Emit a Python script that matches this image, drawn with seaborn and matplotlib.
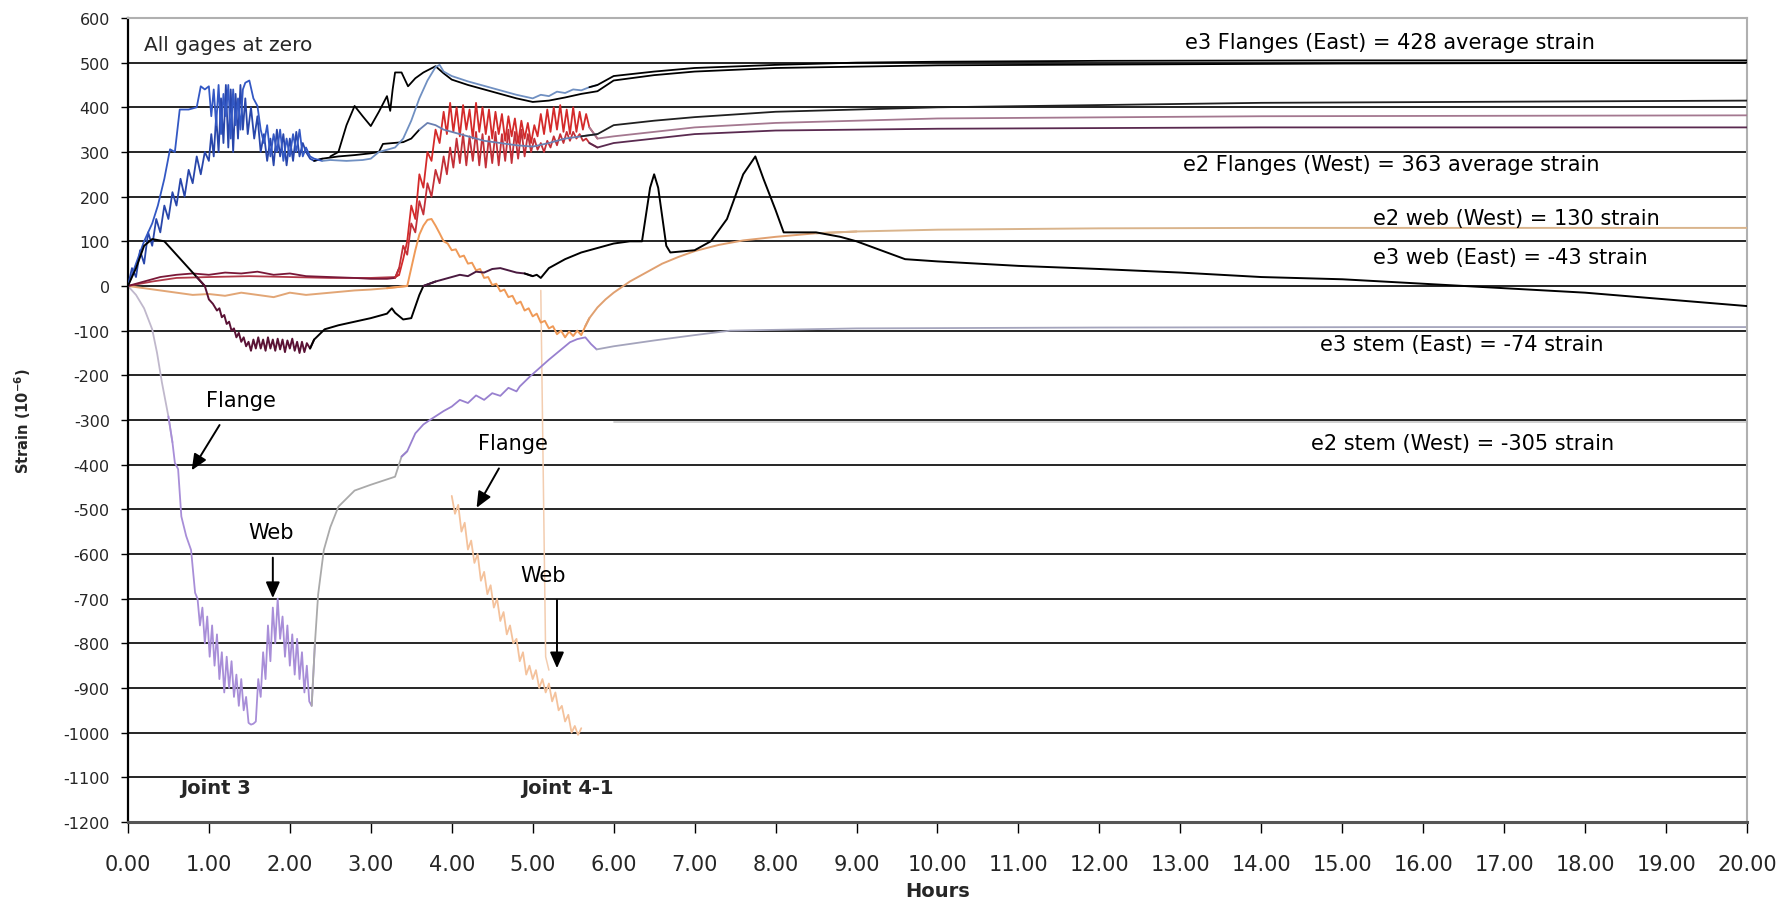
import numpy as np
import pandas as pd
import matplotlib
matplotlib.use("Agg")
import matplotlib.pyplot as plt
import seaborn as sns

sns.set_theme(style="white")
plt.rcParams['font.family'] = ['DejaVu Sans']

# ---------------- data (hours, strain x1e-6) ----------------
blue1_h = [0, 0.1, 0.2, 0.3, 0.37, 0.45, 0.52, 0.58, 0.64, 0.75, 0.85, 0.9, 0.95, 1.0, 1.03, 1.06,
           1.09, 1.12, 1.15, 1.18, 1.21, 1.24, 1.27, 1.3, 1.33, 1.36, 1.39, 1.42, 1.45, 1.5, 1.55,
           1.6, 1.64, 1.68, 1.72, 1.76, 1.8, 1.84, 1.88, 1.92, 1.96, 2.0, 2.04, 2.08, 2.12, 2.16,
           2.2, 2.25, 2.3, 2.4, 2.5, 2.7, 2.9, 3.0, 3.1, 3.3, 3.4, 3.5, 3.6, 3.7, 3.8, 3.85, 3.9,
           4.0, 4.2, 4.4, 4.6, 4.8, 5.0, 5.1, 5.2, 5.3, 5.4, 5.5, 5.6, 5.7, 5.8,
           6.0, 6.5, 7.0, 8.0, 9.0, 10.0, 12.0, 15.0, 20.0]
blue1_v = [0, 50, 100, 140, 180, 240, 306, 300, 395, 395, 400, 447, 440, 447, 380, 440,
           360, 450, 340, 430, 380, 450, 330, 440, 360, 420, 350, 440, 455, 460, 420,
           403, 350, 320, 360, 290, 340, 300, 350, 280, 330, 290, 340, 300, 350, 290,
           310, 290, 285, 280, 282, 280, 282, 285, 300, 310, 330, 370, 420, 460, 490, 495, 480,
           470, 458, 448, 438, 428, 420, 428, 425, 435, 432, 440, 438, 445, 450,
           470, 480, 488, 495, 500, 502, 504, 505, 505]

blue2_h = [0, 0.05, 0.1, 0.15, 0.2, 0.25, 0.3, 0.35, 0.4, 0.45, 0.5, 0.55, 0.6, 0.65, 0.7, 0.75,
           0.8, 0.85, 0.9, 0.95, 1.0, 1.03, 1.06, 1.09, 1.12, 1.15, 1.18, 1.21, 1.24, 1.27, 1.3,
           1.33, 1.36, 1.39, 1.42, 1.45, 1.48, 1.52, 1.56, 1.6, 1.64, 1.68, 1.72, 1.76, 1.8, 1.84,
           1.88, 1.92, 1.96, 2.0, 2.04, 2.08, 2.12, 2.16, 2.2, 2.25, 2.3, 2.4, 2.6, 2.8, 3.0, 3.1,
           3.15, 3.4, 3.5, 3.6, 3.7, 3.8, 3.9, 4.0, 4.2, 4.4, 4.6, 4.8, 5.0, 5.2, 5.4, 5.6, 5.8,
           6.0, 6.5, 7.0, 8.0, 10.0, 14.0, 20.0]
blue2_v = [0, 40, 20, 80, 50, 120, 90, 150, 120, 180, 150, 210, 180, 240, 200, 260,
           230, 290, 250, 300, 280, 340, 290, 380, 300, 420, 320, 450, 310, 440, 300,
           430, 330, 450, 350, 420, 340, 400, 330, 380, 300, 340, 280, 330, 270, 350,
           290, 340, 270, 330, 280, 345, 290, 320, 300, 285, 280, 285, 290, 293, 297, 300,
           318, 322, 330, 350, 365, 360, 350, 345, 335, 325, 320, 315, 312, 320, 330, 335, 340,
           360, 370, 378, 390, 400, 410, 415]

blk_h = [2.5, 2.6, 2.7, 2.8, 2.9, 3.0, 3.1, 3.2, 3.24, 3.27, 3.3, 3.38, 3.46, 3.55, 3.65, 3.8,
         3.9, 4.0, 4.2, 4.4, 4.6, 4.8, 5.0, 5.2, 5.4, 5.6, 5.8, 6.0, 6.5, 7.0, 8.0, 10.0, 15.0, 20.0]
blk_v = [290, 300, 360, 403, 380, 358, 390, 425, 392, 440, 478, 478, 447, 465, 478, 492,
         476, 462, 450, 440, 430, 420, 412, 415, 422, 430, 436, 460, 472, 480, 488, 494, 498, 500]

red1_h = [0, 0.3, 0.6, 1.0, 1.5, 2.0, 2.5, 3.0, 3.3, 3.35, 3.4, 3.45, 3.5, 3.55, 3.6, 3.65, 3.7,
          3.75, 3.8, 3.85,
          3.90, 3.94, 3.98, 4.02, 4.06, 4.10, 4.14, 4.18, 4.22, 4.26, 4.30, 4.34, 4.38, 4.42,
          4.46, 4.50, 4.54, 4.58, 4.62, 4.66, 4.70, 4.74, 4.78, 4.82, 4.86, 4.90, 4.94, 4.98,
          5.02, 5.06, 5.10, 5.14, 5.18, 5.22, 5.26, 5.30, 5.34, 5.38, 5.42, 5.46, 5.50, 5.54,
          5.58, 5.62, 5.66, 5.70,
          5.8, 6.0, 6.5, 7.0, 8.0, 10.0, 14.0, 20.0]
red1_v = [0, 10, 18, 20, 22, 20, 18, 18, 20, 25, 60, 100, 180, 150, 250, 220, 300,
          280, 350, 320,
          390, 340, 410, 345, 400, 335, 405, 350, 395, 330, 410, 345, 400, 340,
          395, 330, 390, 340, 385, 325, 380, 335, 375, 320, 370, 330, 365, 320,
          360, 335, 385, 340, 395, 345, 400, 350, 405, 345, 395, 340, 400, 345,
          390, 350, 385, 355,
          330, 335, 345, 355, 365, 375, 380, 382]

red2_h = [0, 0.2, 0.4, 0.6, 0.8, 1.0, 1.2, 1.4, 1.6, 1.8, 2.0, 2.2, 2.5, 2.8, 3.0, 3.2, 3.3, 3.35,
          3.4, 3.45, 3.5, 3.55, 3.6, 3.65, 3.7, 3.75, 3.8, 3.85,
          3.90, 3.94, 3.98, 4.02, 4.06, 4.10, 4.14, 4.18, 4.22, 4.26, 4.30, 4.34, 4.38, 4.42,
          4.46, 4.50, 4.54, 4.58, 4.62, 4.66, 4.70, 4.74, 4.78, 4.82, 4.86, 4.90, 4.94, 4.98,
          5.02, 5.06, 5.10, 5.14, 5.18, 5.22, 5.26, 5.30, 5.34, 5.38, 5.42, 5.46, 5.50, 5.54,
          5.58, 5.62, 5.66, 5.70,
          5.8, 6.0, 6.5, 7.0, 8.0, 10.0, 14.0, 20.0]
red2_v = [0, 10, 20, 25, 28, 25, 30, 28, 32, 25, 28, 22, 20, 18, 16, 16, 18, 40,
          90, 70, 140, 120, 190, 160, 230, 200, 260, 230,
          290, 250, 310, 265, 330, 275, 340, 270, 335, 280, 345, 270, 340, 265,
          335, 275, 345, 270, 340, 280, 350, 275, 345, 285, 350, 290, 340, 300,
          330, 305, 320, 300, 325, 310, 335, 315, 340, 320, 345, 325, 345, 330,
          340, 325, 330, 320,
          310, 320, 330, 340, 348, 352, 355, 355]

e3web_h = [0, 0.1, 0.2, 0.3, 0.45, 0.55, 0.7, 0.85, 0.95, 1.0, 1.05, 1.1, 1.13, 1.16, 1.19, 1.22,
           1.25, 1.28, 1.31, 1.34, 1.37, 1.40, 1.43, 1.46, 1.49, 1.52, 1.55, 1.58, 1.61, 1.64, 1.67,
           1.70, 1.73, 1.76, 1.79, 1.82, 1.85, 1.88, 1.91, 1.94, 1.97, 2.00, 2.03, 2.06, 2.09, 2.12,
           2.15, 2.18, 2.21, 2.25, 2.3, 2.43, 2.6, 2.8, 3.0, 3.2, 3.26, 3.3, 3.4, 3.5, 3.6, 3.65,
           3.8, 3.9, 4.0, 4.1, 4.2, 4.3, 4.4, 4.5, 4.6, 4.7, 4.8, 4.9, 5.0, 5.05, 5.1, 5.2, 5.4,
           5.6, 5.8, 6.0, 6.2, 6.35, 6.45, 6.5, 6.55, 6.65, 6.7, 7.0, 7.2, 7.4, 7.5, 7.6, 7.75,
           7.85, 8.0, 8.1, 8.3, 8.5, 8.8, 9.0, 9.3, 9.6, 10.0, 11.0, 12.0, 13.0, 14.0, 15.0, 16.0,
           17.0, 18.0, 19.0, 20.0]
e3web_v = [0, 40, 90, 105, 100, 80, 50, 20, 0, -30, -40, -55, -50, -70, -65, -85,
           -80, -100, -95, -115, -105, -125, -115, -135, -125, -145, -120, -140, -115, -140, -120,
           -145, -115, -140, -120, -145, -118, -142, -120, -148, -122, -140, -118, -145, -125, -150,
           -125, -148, -128, -140, -120, -97, -88, -80, -72, -62, -50, -60, -75, -72, -20, 0,
           10, 15, 20, 25, 22, 32, 30, 38, 40, 35, 30, 28, 22, 25, 18, 40, 60,
           75, 85, 95, 100, 100, 220, 250, 220, 90, 75, 80, 100, 150, 200, 250, 290,
           240, 170, 120, 120, 120, 110, 100, 80, 60, 55, 45, 38, 30, 20, 15, 5,
           -5, -15, -30, -45]

e2web_h = [0, 0.2, 0.4, 0.6, 0.8, 1.0, 1.2, 1.4, 1.6, 1.8, 2.0, 2.2, 2.5, 2.8, 3.0, 3.2, 3.45,
           3.5, 3.55, 3.6, 3.65, 3.7, 3.75, 3.8, 3.85, 3.9, 3.95, 4.0, 4.05, 4.1, 4.15, 4.2, 4.25,
           4.3, 4.35, 4.4, 4.45, 4.5, 4.55, 4.6, 4.65, 4.7, 4.75, 4.8, 4.85, 4.9, 4.95, 5.0, 5.05,
           5.1, 5.15, 5.2, 5.25, 5.3, 5.35, 5.4, 5.45, 5.5, 5.55, 5.6, 5.65, 5.7, 5.8, 5.9, 6.0,
           6.2, 6.4, 6.6, 6.8, 7.0, 7.3, 7.6, 8.0, 8.5, 9.0, 10.0, 12.0, 14.0, 17.0, 20.0]
e2web_v = [0, -5, -10, -15, -20, -18, -22, -15, -20, -25, -15, -20, -15, -10, -8, -5, 0,
           40, 80, 115, 135, 148, 150, 135, 118, 100, 95, 80, 82, 65, 68, 50, 52,
           35, 38, 18, 20, 2, 5, -12, -8, -25, -22, -40, -35, -55, -50, -68, -62,
           -82, -78, -95, -90, -108, -100, -115, -102, -112, -100, -110, -90, -72, -48, -30, -15,
           10, 30, 50, 65, 78, 92, 102, 110, 118, 122, 126, 129, 130, 130, 130]

e3stem_h = [0, 0.1, 0.2, 0.3, 0.36, 0.42, 0.5, 0.55, 0.58, 0.62, 0.66, 0.72, 0.78, 0.83,
            0.86, 0.89, 0.92, 0.95, 0.98, 1.01, 1.04, 1.07, 1.10, 1.13, 1.16, 1.19, 1.22, 1.25,
            1.28, 1.31, 1.34, 1.37, 1.40, 1.43, 1.46, 1.49, 1.52, 1.55, 1.58, 1.61, 1.64, 1.67,
            1.70, 1.73, 1.76, 1.79, 1.82, 1.85, 1.88, 1.91, 1.94, 1.97, 2.00, 2.03, 2.06, 2.09,
            2.12, 2.15, 2.18, 2.21, 2.24, 2.27, 2.31, 2.35, 2.42, 2.5, 2.6, 2.8, 3.0, 3.3, 3.38,
            3.45, 3.55, 3.65, 3.73, 3.9, 4.0, 4.1, 4.2, 4.3, 4.4, 4.5, 4.6, 4.7, 4.8, 4.84, 4.97,
            5.2, 5.46, 5.55, 5.65, 5.72, 5.79, 6.0, 6.5, 7.0, 7.44, 9.0, 12.0, 16.0, 20.0]
e3stem_v = [0, -20, -50, -97, -150, -216, -292, -350, -396, -410, -516, -560, -591, -687,
            -700, -760, -720, -800, -740, -830, -760, -850, -780, -880, -820, -910, -830, -900,
            -840, -920, -870, -940, -880, -950, -920, -978, -982, -980, -975, -880, -920, -820,
            -880, -760, -840, -720, -800, -700, -790, -740, -830, -760, -850, -780, -870, -790,
            -880, -820, -910, -850, -930, -940, -800, -690, -591, -540, -494, -458, -445, -427, -382,
            -370, -330, -310, -300, -280, -270, -255, -262, -245, -255, -240, -246, -228, -236, -225, -202,
            -165, -126, -119, -115, -130, -142, -135, -122, -110, -100, -95, -93, -92, -92]

e2stem_h = [4.00, 4.04, 4.08, 4.12, 4.16, 4.20, 4.24, 4.28, 4.32, 4.36, 4.40, 4.44, 4.48, 4.52,
            4.56, 4.60, 4.64, 4.68, 4.72, 4.76, 4.80, 4.84, 4.88, 4.92, 4.96, 5.00, 5.04, 5.08,
            5.12, 5.16, 5.20, 5.24, 5.28, 5.32, 5.36, 5.40, 5.44, 5.48, 5.52, 5.56, 5.60,
            6.0, 8.0, 20.0]
e2stem_v = [-470, -510, -490, -550, -530, -590, -570, -620, -600, -660, -640, -690, -670, -720,
            -700, -750, -730, -780, -760, -800, -790, -840, -820, -870, -850, -880, -860, -900,
            -880, -910, -890, -930, -910, -950, -940, -975, -960, -1000, -985, -1005, -990,
            -305, -305, -305]

j4web_h = [5.10, 5.13, 5.16, 5.20]
j4web_v = [-10, -420, -830, -860]

hour_ticks = list(range(0, 21))
strain_ticks = list(range(-1200, 601, 100))

# ---------------- figure ----------------
fig = plt.figure(figsize=(17.84, 9.03), dpi=100)
ax = fig.add_axes([0.0717, 0.0886, 0.9076, 0.8904])


def draw(h, v, segs, lw=1.3, z=3):
    """Draw one series, colouring consecutive hour ranges differently (joined)."""
    df = pd.DataFrame({"Hours": h, "Strain": v})
    hrs = df["Hours"].values
    for a, b, col in segs:
        idx = np.flatnonzero((hrs >= a) & (hrs <= b))
        if len(idx) == 0:
            continue
        lo = max(idx[0] - 1, 0) if a > hrs[0] else idx[0]
        sub = df.iloc[lo: idx[-1] + 1]
        if len(sub) > 1:
            sns.lineplot(data=sub, x="Hours", y="Strain", color=col, lw=lw, ax=ax,
                         estimator=None, sort=False, zorder=z)


# e2 stem: recorded gauge trace, then the settled value after the gap
e2_split = e2stem_h.index(6.0)
draw(e2stem_h[:e2_split], e2stem_v[:e2_split], [(4.0, 5.6, "#f4c29c")], lw=1.3, z=2)
draw(e2stem_h[e2_split:], e2stem_v[e2_split:], [(6.0, 20, "#cdcdcd")], lw=1.3, z=2)
draw(j4web_h, j4web_v, [(5.1, 5.2, "#f3cdb0")], lw=1.1, z=2)
draw(e3stem_h, e3stem_v, [(0, 0.55, "#c0b8cc"), (0.55, 2.31, "#a88ed8"), (2.31, 3.45, "#aaaaaa"),
                          (3.45, 5.8, "#9880cf"), (5.8, 20, "#a4a4bc")], lw=1.3, z=2)
draw(e2web_h, e2web_v, [(0, 3.45, "#e2a676"), (3.45, 5.7, "#ef9a58"), (5.7, 9, "#e0a070"),
                        (9, 20, "#d9b48c")], lw=1.4, z=3)
draw(red1_h, red1_v, [(0, 3.35, "#b03848"), (3.35, 5.8, "#d42a2a"), (5.8, 20, "#a47890")], lw=1.3, z=3)
draw(red2_h, red2_v, [(0, 3.35, "#7a1838"), (3.35, 5.8, "#c33038"), (5.8, 20, "#5a2a50")], lw=1.3, z=3)
draw(blk_h, blk_v, [(2.5, 20, "black")], lw=1.3, z=4)
draw(blue2_h, blue2_v, [(0, 2.4, "#2846aa"), (2.4, 3.65, "black"), (3.65, 5.8, "#6a80b2"),
                        (5.8, 20, "#202020")], lw=1.3, z=4)
draw(blue1_h, blue1_v, [(0, 2.45, "#3358c4"), (2.45, 5.8, "#7090c2"), (5.8, 20, "black")], lw=1.3, z=4)
draw(e3web_h, e3web_v, [(0, 0.95, "black"), (0.95, 2.3, "#5a1235"), (2.3, 3.8, "black"),
                        (3.8, 5.0, "#4a1a40"), (5.0, 20, "black")], lw=1.4, z=5)

# ---------------- axes styling ----------------
ax.set_xlim(0, 20)
ax.set_ylim(-1200, 600)
ax.set_xticks(hour_ticks)
ax.set_xticklabels([f"{h:.2f}" for h in hour_ticks], fontsize=15)
ax.set_yticks(strain_ticks)
ax.set_yticklabels([str(s) for s in strain_ticks], fontsize=11.5)
ax.yaxis.grid(True, color="black", lw=1.2)
ax.xaxis.grid(False)
ax.set_axisbelow(True)
ax.tick_params(axis="x", direction="out", length=8, width=1, color="black", pad=15, bottom=True)
ax.tick_params(axis="y", direction="out", length=5, width=1, color="black", pad=8, left=True)
for side, col, w in [("left", "black", 1.6), ("bottom", "#555555", 2.2),
                     ("top", "#b0b0b0", 1.5), ("right", "#b0b0b0", 1.5)]:
    ax.spines[side].set_color(col)
    ax.spines[side].set_linewidth(w)
    ax.spines[side].set_visible(True)

ax.set_xlabel("Hours", fontsize=14, fontweight="bold", labelpad=5)
ax.set_ylabel(r"Strain (10$^{\mathbf{-6}}$)", fontsize=10.5, fontweight="bold", labelpad=22)

# ---------------- annotations ----------------
tk = dict(fontsize=15, color="black", zorder=10)
ax.text(0.2, 541, "All gages at zero", ha="left", va="center", fontsize=14.5, zorder=10)
ax.text(15.59, 546, "e3 Flanges (East) = 428 average strain", ha="center", va="center", **tk)
ax.text(15.6, 273, "e2 Flanges (West) = 363 average strain", ha="center", va="center", **tk)
ax.text(17.15, 153, "e2 web (West) = 130 strain", ha="center", va="center", **tk)
ax.text(17.07, 64, "e3 web (East) = -43 strain", ha="center", va="center", **tk)
ax.text(16.48, -130, "e3 stem (East) = -74 strain", ha="center", va="center", **tk)
ax.text(16.48, -352, "e2 stem (West) = -305 strain", ha="center", va="center", **tk)

ax.text(1.39, -255, "Flange", ha="center", va="center", **tk)
ax.text(1.77, -551, "Web", ha="center", va="center", **tk)
ax.text(4.75, -352, "Flange", ha="center", va="center", **tk)
ax.text(5.13, -648, "Web", ha="center", va="center", **tk)
ax.text(1.08, -1123, "Joint 3", ha="center", va="center", fontweight="bold", fontsize=14, zorder=10)
ax.text(5.43, -1123, "Joint 4-1", ha="center", va="center", fontweight="bold", fontsize=14, zorder=10)

arr = dict(arrowstyle="-|>,head_length=0.8,head_width=0.35", color="black", lw=1.4)
ax.annotate("", xy=(0.77, -418), xytext=(1.15, -306), arrowprops=arr, zorder=10)
ax.annotate("", xy=(1.79, -705), xytext=(1.79, -602), arrowprops=arr, zorder=10)
ax.annotate("", xy=(4.29, -502), xytext=(4.6, -403), arrowprops=arr, zorder=10)
ax.annotate("", xy=(5.3, -862), xytext=(5.3, -697), arrowprops=arr, zorder=10)

fig.savefig("out.png", dpi=100)
